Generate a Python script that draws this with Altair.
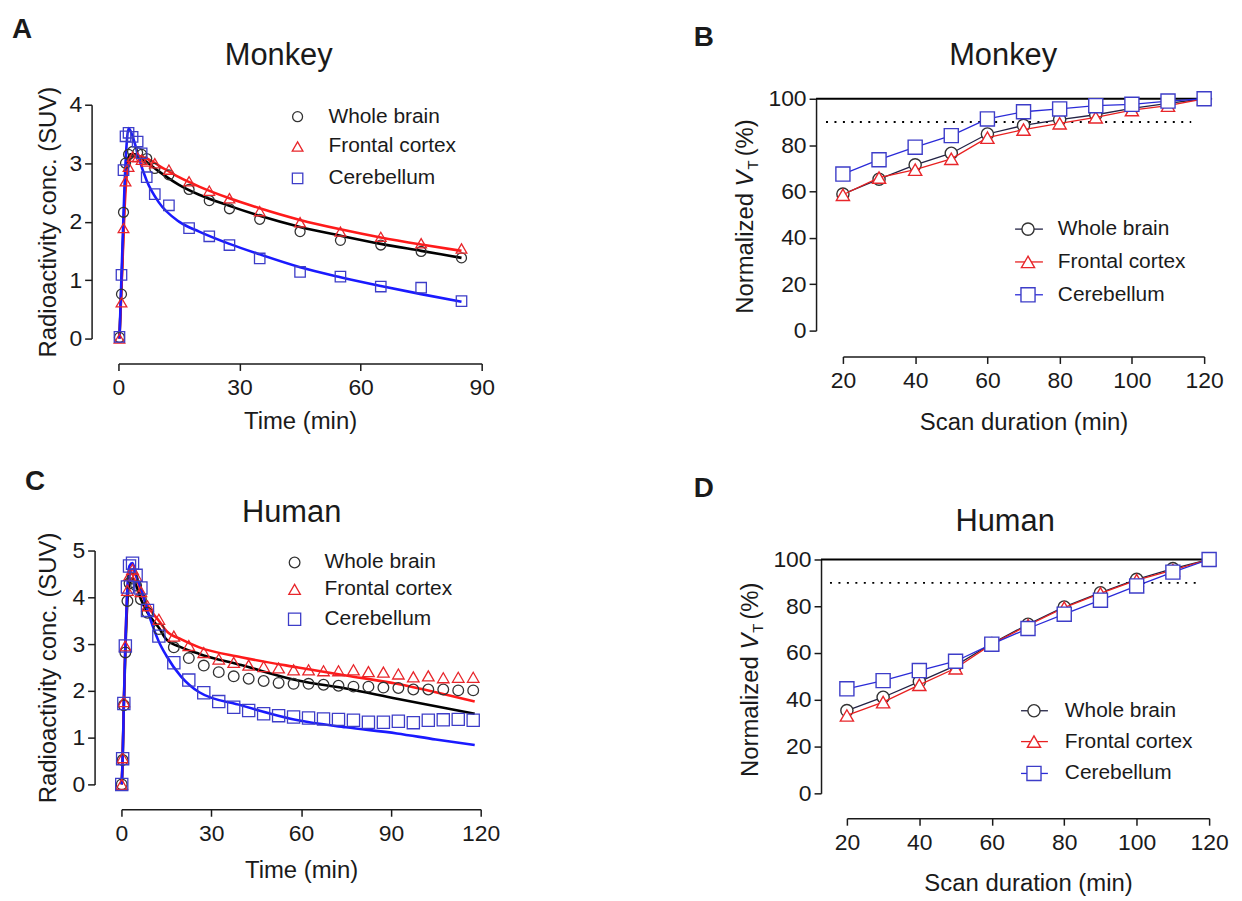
import altair as alt
import pandas as pd

FONT = "Liberation Sans"
INK = "#1a1a1a"

SERIES = ["Whole brain", "Frontal cortex", "Cerebellum"]
FIT_COLORS = ["#000000", "#ff1a1a", "#1a1aff"]
MARK_COLORS = ["#333333", "#e8262b", "#3d3dc8"]
LINE_COLORS = ["#222244", "#e82020", "#2a2ad8"]
SHAPES = ["circle", "triangle-up", "square"]

# ---------------- Panel A : Monkey, time-activity (SUV) ----------------
A_TIME = [0.25, 0.75, 1.25, 1.75, 2.5, 3.5, 4.75, 5.75, 7, 9, 12.5, 17.5, 22.5, 27.5, 35, 45, 55, 65, 75, 85]
A_WB = [0.02, 0.76, 2.16, 3.0, 3.15, 3.2, 3.18, 3.15, 3.08, 2.91, 2.8, 2.55, 2.36, 2.22, 2.04, 1.83, 1.68, 1.6, 1.49, 1.38]
A_FC = [0.0, 0.62, 1.89, 2.69, 2.94, 3.11, 3.1, 3.06, 3.03, 3.0, 2.89, 2.69, 2.53, 2.4, 2.18, 1.99, 1.83, 1.74, 1.63, 1.54]
A_CB = [0.03, 1.09, 2.88, 3.46, 3.52, 3.45, 3.37, 3.17, 2.76, 2.47, 2.28, 1.89, 1.75, 1.6, 1.37, 1.14, 1.06, 0.89, 0.87, 0.64]
A_FIT_TIME = [0.25, 1, 1.5, 2, 2.5, 3, 4, 5, 7, 10, 15, 20, 27.5, 35, 45, 55, 65, 75, 85]
A_FIT_WB = [0.0, 1.4, 2.4, 2.95, 3.1, 3.15, 3.15, 3.12, 3.02, 2.86, 2.63, 2.46, 2.27, 2.1, 1.91, 1.76, 1.62, 1.5, 1.38]
A_FIT_FC = [0.0, 1.3, 2.2, 2.75, 2.98, 3.08, 3.12, 3.12, 3.08, 2.96, 2.76, 2.6, 2.4, 2.23, 2.03, 1.87, 1.73, 1.61, 1.5]
A_FIT_CB = [0.0, 1.6, 2.6, 3.3, 3.6, 3.55, 3.35, 3.1, 2.7, 2.33, 2.0, 1.83, 1.62, 1.44, 1.22, 1.05, 0.9, 0.76, 0.63]

# ---------------- Panel C : Human, time-activity (SUV) ----------------
C_TIME = [0.1, 0.4, 0.8, 1.3, 2.0, 2.7, 3.7, 4.9, 6.5, 8.7, 12.5, 17.5, 22.5, 27.5, 32.5, 37.5,
          42.5, 47.5, 52.5, 57.5, 62.5, 67.5, 72.5, 77.5, 82.5, 87.5, 92.5, 97.5, 102.5, 107.5, 112.5, 117.5]
C_WB = [0.0, 0.52, 1.69, 2.82, 3.92, 4.3, 4.4, 4.25, 3.96, 3.67, 3.32, 2.93, 2.7, 2.54, 2.4, 2.31,
        2.26, 2.21, 2.17, 2.15, 2.15, 2.13, 2.11, 2.09, 2.09, 2.07, 2.06, 2.03, 2.03, 2.03, 2.01, 2.01]
C_FC = [0.0, 0.57, 1.77, 2.96, 4.15, 4.47, 4.6, 4.45, 4.12, 3.82, 3.53, 3.17, 2.97, 2.82, 2.68, 2.61,
        2.55, 2.52, 2.49, 2.45, 2.45, 2.43, 2.43, 2.45, 2.41, 2.4, 2.36, 2.3, 2.32, 2.28, 2.29, 2.29]
C_CB = [0.0, 0.55, 1.73, 2.96, 4.22, 4.67, 4.73, 4.47, 4.2, 3.72, 3.17, 2.6, 2.23, 1.96, 1.77, 1.65,
        1.58, 1.51, 1.47, 1.44, 1.42, 1.4, 1.39, 1.37, 1.33, 1.33, 1.35, 1.32, 1.37, 1.38, 1.39, 1.37]
C_FIT_TIME = [0.1, 0.4, 0.8, 1.3, 2.0, 2.7, 3.7, 4.9, 6.5, 8.7, 12.5, 15, 20, 26, 40, 59, 75, 92, 105, 118]
C_FIT_WB = [0.0, 0.52, 1.69, 2.82, 3.92, 4.3, 4.4, 4.25, 3.96, 3.67, 3.35, 3.1, 2.93, 2.79, 2.55, 2.22, 2.05, 1.83, 1.67, 1.51]
C_FIT_FC = [0.0, 0.57, 1.77, 2.96, 4.15, 4.47, 4.6, 4.45, 4.12, 3.82, 3.5, 3.28, 3.1, 2.93, 2.72, 2.5, 2.33, 2.15, 1.97, 1.77]
C_FIT_CB = [0.0, 0.55, 1.73, 2.96, 4.22, 4.67, 4.73, 4.47, 4.2, 3.72, 3.05, 2.75, 2.3, 1.97, 1.69, 1.37, 1.22, 1.09, 0.96, 0.84]

# ---------------- Panels B / D : normalized VT vs scan duration ----------------
DURATION = [20, 30, 40, 50, 60, 70, 80, 90, 100, 110, 120]
B_WB = [58.9, 65.3, 71.5, 76.5, 84.8, 88.5, 91.0, 93.1, 95.8, 98.0, 100]
B_FC = [58.6, 66.0, 69.4, 74.1, 83.2, 86.7, 89.4, 92.0, 95.1, 97.0, 100]
B_CB = [67.5, 73.7, 79.1, 84.1, 91.3, 94.4, 95.6, 97.0, 97.6, 99.0, 100]
D_WB = [35.4, 41.1, 47.8, 54.6, 64.1, 72.3, 79.7, 85.8, 91.5, 96.1, 100]
D_FC = [33.3, 39.0, 46.4, 53.5, 63.8, 71.9, 79.4, 85.5, 91.2, 95.5, 100]
D_CB = [44.7, 48.2, 52.5, 56.5, 63.8, 70.5, 76.6, 82.6, 88.7, 94.6, 100]
REF_FULL = [100]
REF_90 = [90]

TICKS_A_X = [0, 30, 60, 90]
TICKS_A_Y = [0, 1, 2, 3, 4]
TICKS_C_X = [0, 30, 60, 90, 120]
TICKS_C_Y = [0, 1, 2, 3, 4, 5]
TICKS_BD_X = [20, 40, 60, 80, 100, 120]
TICKS_BD_Y = [0, 20, 40, 60, 80, 100]

W = 368
H = 244
NO_FRAME = alt.ViewBackground(stroke="transparent", strokeWidth=0, strokeOpacity=0)

# Arial / Liberation Sans advance widths (per 1000 em)
CW = {" ": 278, "(": 333, ")": 333, "%": 889, "N": 722, "o": 556, "r": 333, "m": 833,
      "a": 556, "l": 222, "i": 222, "z": 500, "e": 556, "d": 556, "V": 667, "T": 611}


def tw(s, size):
    return sum(CW.get(c, 556) for c in s) * size / 1000.0


def long_df(times, vals_list):
    rows = []
    for name, vals in zip(SERIES, vals_list):
        for t, v in zip(times, vals):
            rows.append({"t": t, "v": v, "series": name})
    return pd.DataFrame(rows)


def axis(ticks, offset, title, title_pad, label_pad=6):
    return alt.Axis(values=ticks, offset=offset, title=title, format="d",
                    tickSize=7, tickWidth=1.5, domainWidth=1.5,
                    domainColor=INK, tickColor=INK, labelFont=FONT,
                    labelFontSize=23, labelColor=INK, labelPadding=label_pad,
                    labelFlush=False, labelOverlap=False, titleFont=FONT,
                    titleFontSize=24, titleFontWeight="normal", titleColor=INK,
                    titlePadding=title_pad, grid=False)


def make_x(domain, rng, ticks, offset, title, title_pad):
    return alt.X("t:Q", scale=alt.Scale(domain=domain, range=rng, nice=False, zero=False),
                 axis=axis(ticks, offset, title, title_pad, 6))


def make_y(domain, rng, ticks, offset, title, title_pad):
    return alt.Y("v:Q", scale=alt.Scale(domain=domain, range=rng, nice=False, zero=False),
                 axis=axis(ticks, offset, title, title_pad, 3))


def text_layer(txt, x, y, size, bold=False, italic=False, align="left",
               baseline="alphabetic", angle=0, color=INK):
    mk = dict(font=FONT, fontSize=size, align=align, baseline=baseline, color=color)
    if bold:
        mk["fontWeight"] = "bold"
    if italic:
        mk["fontStyle"] = "italic"
    if angle:
        mk["angle"] = angle
    return alt.Chart(pd.DataFrame({"label": [txt]})).mark_text(**mk).encode(
        x=alt.value(x), y=alt.value(y), text="label:N")


def legend_layers(sym_x, txt_x, ys, sizes, with_line=False, line_x=(0, 0)):
    layers = []
    for i, name in enumerate(SERIES):
        one = alt.Chart(pd.DataFrame({"label": [name]}))
        if with_line:
            layers.append(one.mark_rule(color=LINE_COLORS[i], strokeWidth=1.3).encode(
                x=alt.value(line_x[0]), x2=alt.value(line_x[1]), y=alt.value(ys[i])))
            layers.append(one.mark_point(shape=SHAPES[i], size=sizes[i], filled=True,
                                         fill="white", stroke=MARK_COLORS[i],
                                         strokeWidth=1.4, opacity=1).encode(
                x=alt.value(sym_x), y=alt.value(ys[i])))
        else:
            layers.append(one.mark_point(shape=SHAPES[i], size=sizes[i], filled=False,
                                         color=MARK_COLORS[i], strokeWidth=1.3,
                                         opacity=1).encode(
                x=alt.value(sym_x), y=alt.value(ys[i])))
        layers.append(one.mark_text(font=FONT, fontSize=21, align="left",
                                    baseline="middle", color=INK).encode(
            x=alt.value(txt_x), y=alt.value(ys[i]), text="label:N"))
    return layers


def tac_panel(times, vals, fit_t, fits, X, Y, sizes, title, title_xy, letter, letter_xy,
              leg):
    pts = long_df(times, vals)
    fdf = long_df(fit_t, fits)
    layers = []
    for i, name in enumerate(SERIES):
        layers.append(alt.Chart(fdf[fdf.series == name]).mark_line(
            color=FIT_COLORS[i], strokeWidth=2.6, interpolate="monotone").encode(x=X, y=Y))
    for i, name in enumerate(SERIES):
        layers.append(alt.Chart(pts[pts.series == name]).mark_point(
            shape=SHAPES[i], size=sizes[i], filled=False, color=MARK_COLORS[i],
            strokeWidth=1.3, opacity=1).encode(x=X, y=Y))
    layers += legend_layers(leg[0], leg[1], leg[2], sizes)
    layers.append(text_layer(title, title_xy[0], title_xy[1], 31, align="center"))
    layers.append(text_layer(letter, letter_xy[0], letter_xy[1], 28, bold=True))
    return alt.layer(*layers).properties(width=W, height=H, view=NO_FRAME)


def vt_title_layers(x, yc, size=24, sub=15, gap=5):
    parts = ["Normalized ", "V", "T", " (%)"]
    lens = [tw(parts[0], size), tw("V", size), tw("T", sub) + gap, tw(parts[3], size)]
    total = sum(lens)
    y0 = yc + total / 2.0
    out = [text_layer(parts[0], x, y0, size, baseline="middle", angle=270),
           text_layer("V", x, y0 - lens[0], size, italic=True, baseline="middle", angle=270),
           text_layer("T", x + 7, y0 - lens[0] - lens[1] - 1, sub, baseline="middle", angle=270),
           text_layer(parts[3], x, y0 - lens[0] - lens[1] - lens[2], size,
                      baseline="middle", angle=270)]
    return out


def vt_panel(vals, X, Y, yc, title, title_xy, letter, letter_xy, leg, ref_x, dot_x, ytitle_x):
    df = long_df(DURATION, vals)
    sizes = [150, 175, 200]
    layers = []
    layers.append(alt.Chart(pd.DataFrame({"v": REF_FULL})).mark_rule(
        color="#000000", strokeWidth=2).encode(
        y=Y, x=alt.value(ref_x[0]), x2=alt.value(ref_x[1])))
    layers.append(alt.Chart(pd.DataFrame({"v": REF_90})).mark_rule(
        color="#000000", strokeWidth=2, strokeDash=[2, 6.5]).encode(
        y=Y, x=alt.value(dot_x[0]), x2=alt.value(dot_x[1])))
    for i, name in enumerate(SERIES):
        sub = df[df.series == name]
        layers.append(alt.Chart(sub).mark_line(color=LINE_COLORS[i], strokeWidth=1.3).encode(
            x=X, y=Y))
        layers.append(alt.Chart(sub).mark_point(
            shape=SHAPES[i], size=sizes[i], filled=True, fill="white",
            stroke=MARK_COLORS[i], strokeWidth=1.4, opacity=1).encode(x=X, y=Y))
    layers += legend_layers(leg[0], leg[1], leg[2], sizes, with_line=True, line_x=leg[3])
    layers += vt_title_layers(ytitle_x, yc)
    layers.append(text_layer(title, title_xy[0], title_xy[1], 31, align="center"))
    layers.append(text_layer(letter, letter_xy[0], letter_xy[1], 28, bold=True))
    return alt.layer(*layers).properties(width=W, height=H, view=NO_FRAME)


# ---- Panel A ----
XA = make_x([0, 90], [0, 365], TICKS_A_X, 22, "Time (min)", 10)
YA = make_y([0, 4], [241, 6], TICKS_A_Y, 27, "Radioactivity conc. (SUV)", 8)
panel_a = tac_panel(A_TIME, [A_WB, A_FC, A_CB], A_FIT_TIME, [A_FIT_WB, A_FIT_FC, A_FIT_CB],
                    XA, YA, [100, 115, 110], "Monkey", (161, -34), "A", (-107, -61),
                    (180, 211, [18, 48, 80]))

# ---- Panel C ----
XC = make_x([0, 120], [3, 364], TICKS_C_X, 16, "Time (min)", 14)
YC = make_y([0, 5], [235, 0], TICKS_C_Y, 24, "Radioactivity conc. (SUV)", 11)
panel_c = tac_panel(C_TIME, [C_WB, C_FC, C_CB], C_FIT_TIME, [C_FIT_WB, C_FIT_FC, C_FIT_CB],
                    XC, YC, [115, 135, 150], "Human", (174, -29), "C", (-94, -61),
                    (177, 207, [12, 39, 69]))

# ---- Panel B ----
XB = make_x([20, 120], [0, 363], TICKS_BD_X, 15, "Scan duration (min)", 18)
YB = make_y([0, 100], [233, 0], TICKS_BD_Y, 27, "", 0)
panel_b = vt_panel([B_WB, B_FC, B_CB], XB, YB, 115, "Monkey", (161, -34), "B", (-150, -53),
                   (186, 216, [131, 164, 197], (173, 201)), (-27, 371), (-17, 350), -97)

# ---- Panel D ----
XD = make_x([20, 120], [4, 368], TICKS_BD_X, 25, "Scan duration (min)", 18)
YD = make_y([0, 100], [244, 9], TICKS_BD_Y, 22, "", 0)
panel_d = vt_panel([D_WB, D_FC, D_CB], XD, YD, 126.5, "Human", (163, -20), "D", (-150, -54),
                   (192, 223, [161, 192, 224], (179, 206)), (-22, 371), (-13, 355), -92)

chart = alt.concat(panel_a, panel_b, panel_c, panel_d, columns=2,
                   spacing={"row": 210, "column": 360}, bounds="flush").properties(
    padding={"left": 4, "top": 6, "right": 5, "bottom": 5}
).configure_view(stroke="transparent", strokeWidth=0, strokeOpacity=0).configure(
    font=FONT, background="white")

chart.save("out.html", embed_options={"renderer": "svg", "actions": False})
